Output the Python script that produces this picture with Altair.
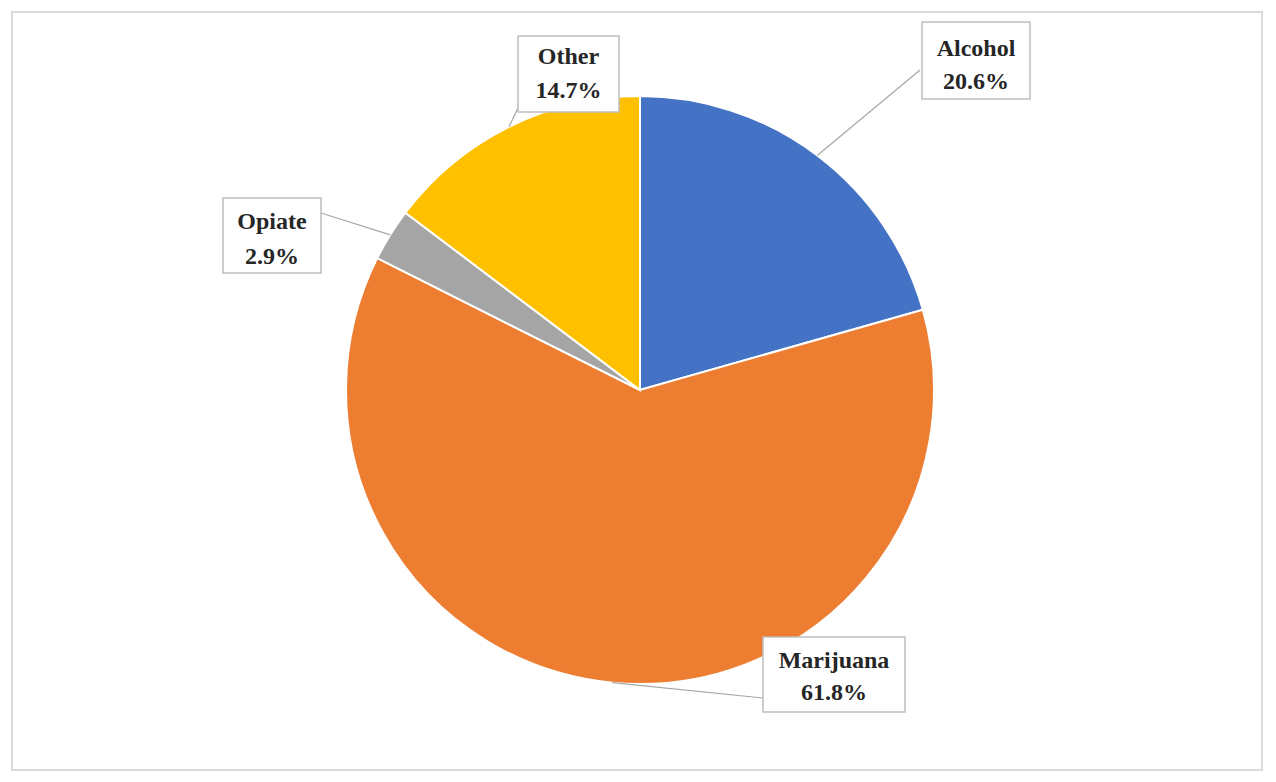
import math
import altair as alt
import pandas as pd

# ---- data ----
categories = ["Alcohol", "Marijuana", "Opiate", "Other"]
shares = [20.6, 61.8, 2.9, 14.7]
colors = ["#4472C4", "#ED7D31", "#A5A5A5", "#FFC000"]

# ---- layout (chart pixel coords, y downward) ----
W, H = 1260, 766
CX, CY, R = 632, 382, 294
box_x1 = [914, 755, 215, 510]
box_x2 = [1022, 897, 313, 611]
box_y1 = [14, 629, 190, 28]
box_y2 = [91, 704, 265, 104]
name_y = [41, 653, 214, 49]
pct_y = [74, 685, 249, 83]
leader_from_x = [912, 755, 313, 510]
leader_from_y = [62, 690, 205, 100]

df = pd.DataFrame({"category": categories, "share": shares,
                   "idx": list(range(len(categories)))})

# leader end points on the slice mid-angles
cum = 0.0
lx2, ly2 = [], []
for s in shares:
    mid = (cum + s / 2) / 100 * 2 * math.pi
    lx2.append(CX + R * math.sin(mid))
    ly2.append(CY - R * math.cos(mid))
    cum += s

lab = pd.DataFrame({
    "category": categories,
    "pct": [f"{s:.1f}%" for s in shares],
    "x1": box_x1, "x2": box_x2, "y1": box_y1, "y2": box_y2,
    "cx": [(a + b) / 2 for a, b in zip(box_x1, box_x2)],
    "ny": name_y, "py": pct_y,
    "lx1": leader_from_x, "ly1": leader_from_y, "lx2": lx2, "ly2": ly2,
})

xs = alt.Scale(domain=[0, W], range=[0, W])
ys = alt.Scale(domain=[0, H], range=[0, H])

frame = alt.Chart(pd.DataFrame({"a": [0]})).mark_rect(
    fill="white", stroke="#D9D9D9", strokeWidth=2
).encode(x=alt.value(4), x2=alt.value(1254), y=alt.value(4), y2=alt.value(762))

pie = alt.Chart(df).mark_arc(stroke="white", strokeWidth=2, radius=R).encode(
    theta=alt.Theta("share:Q", stack=True),
    order=alt.Order("idx:Q"),
    color=alt.Color("category:N", scale=alt.Scale(domain=categories, range=colors), legend=None),
    x=alt.value(CX), y=alt.value(CY),
)

leaders = alt.Chart(lab).mark_rule(color="#A6A6A6", strokeWidth=1.2).encode(
    x=alt.X("lx1:Q", scale=xs, axis=None), y=alt.Y("ly1:Q", scale=ys, axis=None),
    x2="lx2:Q", y2="ly2:Q",
)

boxes = alt.Chart(lab).mark_rect(fill="white", stroke="#BFBFBF", strokeWidth=1.5).encode(
    x=alt.X("x1:Q", scale=xs, axis=None), x2="x2:Q",
    y=alt.Y("y1:Q", scale=ys, axis=None), y2="y2:Q",
)

font = dict(font="Liberation Serif", fontWeight="bold", fontSize=24, color="#262626",
            align="center", baseline="middle")
names = alt.Chart(lab).mark_text(**font).encode(
    x=alt.X("cx:Q", scale=xs, axis=None), y=alt.Y("ny:Q", scale=ys, axis=None),
    text="category:N",
)
pcts = alt.Chart(lab).mark_text(**font).encode(
    x=alt.X("cx:Q", scale=xs, axis=None), y=alt.Y("py:Q", scale=ys, axis=None),
    text="pct:N",
)

chart = alt.layer(frame, pie, leaders, boxes, names, pcts).properties(
    width=W, height=H, padding=0, background="white"
).configure_view(stroke=None)

chart.save("out.html", embed_options={"renderer": "svg", "actions": False})
